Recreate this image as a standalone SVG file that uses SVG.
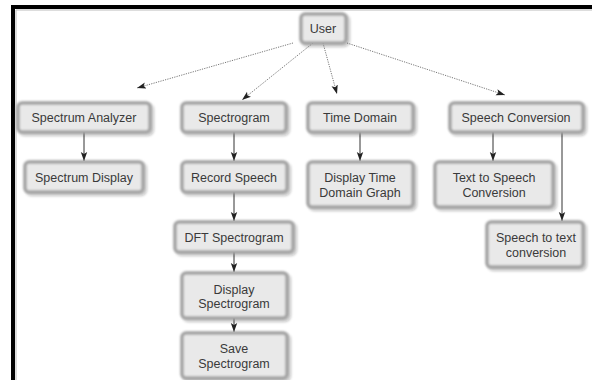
<svg xmlns="http://www.w3.org/2000/svg" width="592" height="380" viewBox="0 0 592 380">
<defs>
<style>
.box{fill:#e9e9e9;stroke:#a3a3a3;stroke-width:3.5;filter:url(#soft)}
.t{font-family:"Liberation Sans",Arial,sans-serif;font-size:12.5px;fill:#3a3a3a;text-anchor:middle}
.dot{stroke:#777;stroke-width:1;stroke-dasharray:1.2 1.2;fill:none}
.sol{stroke:#333;stroke-width:1;fill:none}
</style>
<filter id="soft" x="-20%" y="-30%" width="150%" height="170%">
<feGaussianBlur in="SourceAlpha" stdDeviation="1.8" result="b"/>
<feOffset in="b" dx="1.5" dy="2" result="o"/>
<feComponentTransfer in="o" result="s"><feFuncA type="linear" slope="0.3"/></feComponentTransfer>
<feGaussianBlur in="SourceGraphic" stdDeviation="1.1" result="g"/>
<feMerge><feMergeNode in="s"/><feMergeNode in="g"/></feMerge>
</filter>
<marker id="ah" markerWidth="10" markerHeight="8" refX="9" refY="4" orient="auto" markerUnits="userSpaceOnUse">
<path d="M0,0.8 L9,4 L0,7.2 L2,4 Z" fill="#222"/>
</marker>
</defs>
<rect x="0" y="0" width="592" height="380" fill="#fff"/>
<rect x="11" y="5" width="581" height="4" fill="#000"/>
<rect x="11" y="5" width="4" height="375" fill="#000"/>
<line x1="16" y1="10" x2="592" y2="10" stroke="#bbb" stroke-width="1"/>
<line x1="16" y1="10" x2="16" y2="380" stroke="#bbb" stroke-width="1"/>

<g id="connectors">
<path class="dot" d="M293,43 L137,88" marker-end="url(#ah)"/>
<path class="dot" d="M313,43 L242,100" marker-end="url(#ah)"/>
<path class="dot" d="M323,43 L337,94" marker-end="url(#ah)"/>
<path class="dot" d="M347,43 L505,95" marker-end="url(#ah)"/>
<path class="sol" d="M84,132 V161" marker-end="url(#ah)"/>
<path class="sol" d="M234,132 V161" marker-end="url(#ah)"/>
<path class="sol" d="M234,192 V221" marker-end="url(#ah)"/>
<path class="sol" d="M234,252 V272" marker-end="url(#ah)"/>
<path class="sol" d="M234,318 V332" marker-end="url(#ah)"/>
<path class="sol" d="M360,132 V161" marker-end="url(#ah)"/>
<path class="sol" d="M493,132 V161" marker-end="url(#ah)"/>
<path class="sol" d="M562,132 V221" marker-end="url(#ah)"/>
</g>

<g id="user"><rect class="box" x="301" y="14" width="45" height="29" rx="4"/><text class="t" x="323" y="33">User</text></g>
<g id="spectrum-analyzer"><rect class="box" x="18" y="103" width="132" height="29" rx="4"/><text class="t" x="84" y="122">Spectrum Analyzer</text></g>
<g id="spectrum-display"><rect class="box" x="25" y="162" width="118" height="30" rx="4"/><text class="t" x="84" y="182">Spectrum Display</text></g>
<g id="spectrogram"><rect class="box" x="182" y="103" width="104" height="29" rx="4"/><text class="t" x="234" y="122">Spectrogram</text></g>
<g id="record-speech"><rect class="box" x="182" y="162" width="105" height="30" rx="4"/><text class="t" x="234" y="182">Record Speech</text></g>
<g id="dft-spectrogram"><rect class="box" x="175" y="222" width="118" height="30" rx="4"/><text class="t" x="234" y="242">DFT Spectrogram</text></g>
<g id="display-spectrogram"><rect class="box" x="182" y="273" width="105" height="45" rx="4"/><text class="t" x="234" y="294">Display</text><text class="t" x="234" y="308">Spectrogram</text></g>
<g id="save-spectrogram"><rect class="box" x="182" y="333" width="105" height="45" rx="4"/><text class="t" x="234" y="353">Save</text><text class="t" x="234" y="368">Spectrogram</text></g>
<g id="time-domain"><rect class="box" x="308" y="103" width="105" height="29" rx="4"/><text class="t" x="360" y="122">Time Domain</text></g>
<g id="display-time-domain-graph"><rect class="box" x="308" y="162" width="105" height="45" rx="4"/><text class="t" x="360" y="182">Display Time</text><text class="t" x="360" y="197">Domain Graph</text></g>
<g id="speech-conversion"><rect class="box" x="450" y="103" width="133" height="29" rx="4"/><text class="t" x="516" y="122">Speech Conversion</text></g>
<g id="text-to-speech"><rect class="box" x="435" y="162" width="118" height="45" rx="4"/><text class="t" x="494" y="182">Text to Speech</text><text class="t" x="494" y="197">Conversion</text></g>
<g id="speech-to-text"><rect class="box" x="487" y="222" width="96" height="45" rx="4"/><text class="t" x="536" y="242">Speech to text</text><text class="t" x="536" y="257">conversion</text></g>
</svg>
